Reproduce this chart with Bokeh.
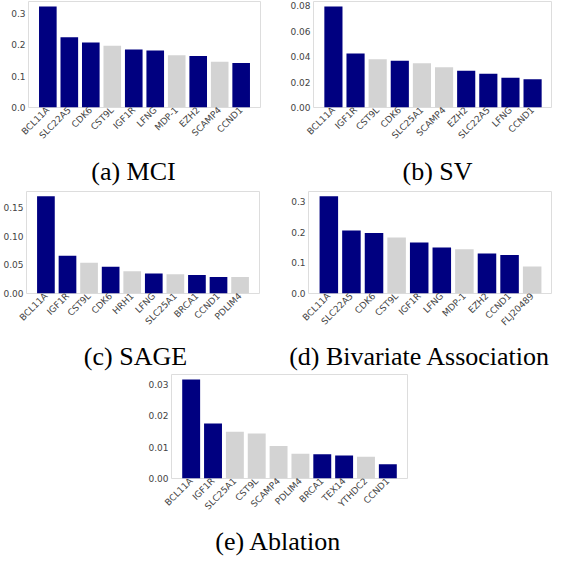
import math
from bokeh.plotting import figure
from bokeh.layouts import column, row, Spacer
from bokeh.models import FactorRange, Range1d, FixedTicker, PrintfTickFormatter, ColumnDataSource
from bokeh.core.properties import value
from bokeh.embed import file_html
from bokeh.resources import INLINE

# ---------------- data ----------------
mci_genes = ["BCL11A", "SLC22A5", "CDK6", "CST9L", "IGF1R", "LFNG", "MDP-1", "EZH2", "SCAMP4", "CCND1"]
mci_values = [0.322, 0.224, 0.207, 0.197, 0.185, 0.182, 0.167, 0.164, 0.146, 0.142]
mci_known = [1, 1, 1, 0, 1, 1, 0, 1, 0, 1]
mci_ticks = [0.0, 0.1, 0.2, 0.3]

sv_genes = ["BCL11A", "IGF1R", "CST9L", "CDK6", "SLC25A1", "SCAMP4", "EZH2", "SLC22A5", "LFNG", "CCND1"]
sv_values = [0.0794, 0.0425, 0.0380, 0.0367, 0.0349, 0.0316, 0.0290, 0.0265, 0.0234, 0.0222]
sv_known = [1, 1, 0, 1, 0, 0, 1, 1, 1, 1]
sv_ticks = [0.0, 0.02, 0.04, 0.06, 0.08]

sage_genes = ["BCL11A", "IGF1R", "CST9L", "CDK6", "HRH1", "LFNG", "SLC25A1", "BRCA1", "CCND1", "PDLIM4"]
sage_values = [0.170, 0.066, 0.054, 0.047, 0.039, 0.035, 0.0336, 0.0325, 0.029, 0.0287]
sage_known = [1, 1, 0, 1, 0, 1, 0, 1, 1, 0]
sage_ticks = [0.0, 0.05, 0.10, 0.15]

biv_genes = ["BCL11A", "SLC22A5", "CDK6", "CST9L", "IGF1R", "LFNG", "MDP-1", "EZH2", "CCND1", "FLJ20489"]
biv_values = [0.316, 0.205, 0.197, 0.182, 0.166, 0.150, 0.144, 0.130, 0.125, 0.088]
biv_known = [1, 1, 1, 0, 1, 1, 0, 1, 1, 0]
biv_ticks = [0.0, 0.1, 0.2, 0.3]

abl_genes = ["BCL11A", "IGF1R", "SLC25A1", "CST9L", "SCAMP4", "PDLIM4", "BRCA1", "TEX14", "YTHDC2", "CCND1"]
abl_values = [0.0315, 0.0175, 0.0149, 0.0143, 0.0103, 0.0079, 0.0077, 0.0073, 0.0069, 0.0045]
abl_known = [1, 1, 0, 0, 0, 0, 1, 1, 0, 1]
abl_ticks = [0.0, 0.01, 0.02, 0.03]

captions = ["(a) MCI", "(b) SV", "(c) SAGE", "(d) Bivariate Association", "(e) Ablation"]

NAVY = "#000080"
GRAY = "#d3d3d3"
ROW_W = 552


def bars(genes, values, known, ticks, fmt, width, height, b_left, b_right, b_top, b_bottom):
    src = ColumnDataSource(dict(
        gene=genes, value=values,
        color=[NAVY if k else GRAY for k in known]))
    p = figure(x_range=FactorRange(*genes, range_padding=0.08),
               y_range=Range1d(0, max(values) * 1.05),
               width=width, height=height,
               output_backend="svg", toolbar_location=None,
               min_border_left=b_left, min_border_right=b_right,
               min_border_top=b_top, min_border_bottom=b_bottom)
    p.vbar(x="gene", top="value", width=0.82, source=src,
           fill_color="color", line_color=None)
    p.xgrid.visible = False
    p.ygrid.visible = False
    p.outline_line_color = "#dddddd"
    p.outline_line_width = 1
    p.background_fill_color = "white"
    p.border_fill_color = "white"
    for ax in (p.xaxis[0], p.yaxis[0]):
        ax.axis_line_color = None
        ax.major_tick_line_color = None
        ax.minor_tick_line_color = None
        ax.major_tick_out = 0
        ax.major_tick_in = 0
        ax.minor_tick_out = 0
        ax.minor_tick_in = 0
        ax.major_label_text_font = "DejaVu Sans"
        ax.major_label_text_font_size = "9px"
        ax.major_label_text_color = "#444444"
        ax.major_label_standoff = 3
    p.yaxis.ticker = FixedTicker(ticks=ticks)
    p.yaxis.formatter = PrintfTickFormatter(format=fmt)
    p.xaxis.major_label_orientation = math.pi / 4
    p.xaxis.major_label_standoff = 1
    return p


def caption_row(height, items):
    # items: (text, x position in px, vertical position from top, alignment)
    c = figure(width=ROW_W, height=height,
               x_range=Range1d(0, ROW_W), y_range=Range1d(0, height),
               x_axis_type=None, y_axis_type=None,
               output_backend="svg", toolbar_location=None, min_border=0)
    c.grid.visible = False
    c.outline_line_color = None
    for text, cx, cy, align in items:
        c.text(x=[cx], y=[height - cy], text=[text],
               text_font=value("Liberation Serif"), text_font_size=value("26px"),
               text_align=align, text_baseline="middle", text_color="black")
    return c


pa = bars(mci_genes, mci_values, mci_known, mci_ticks, "%.1f", 276, 151, 28, 16, 1, 44)
pb = bars(sv_genes, sv_values, sv_known, sv_ticks, "%.2f", 276, 151, 37, 0, 1, 44)
pc = bars(sage_genes, sage_values, sage_known, sage_ticks, "%.2f", 276, 151, 23, 17, 5, 44)
pd_ = bars(biv_genes, biv_values, biv_known, biv_ticks, "%.1f", 276, 151, 32, 0, 5, 44)
pe = bars(abl_genes, abl_values, abl_known, abl_ticks, "%.2f", 281, 151, 30, 15, 3, 44)

cap1 = caption_row(35, [(captions[0], 133, 20, "center"), (captions[1], 437, 20, "center")])
cap2 = caption_row(34, [(captions[2], 135, 19, "center"), (captions[3], 550, 19, "right")])
cap3 = caption_row(34, [(captions[4], 278, 19, "center")])

layout = column(
    row(pa, pb), cap1,
    row(pc, pd_), cap2,
    row(Spacer(width=141, height=10), pe), cap3,
)

open("out.html", "w").write(file_html(layout, INLINE))
